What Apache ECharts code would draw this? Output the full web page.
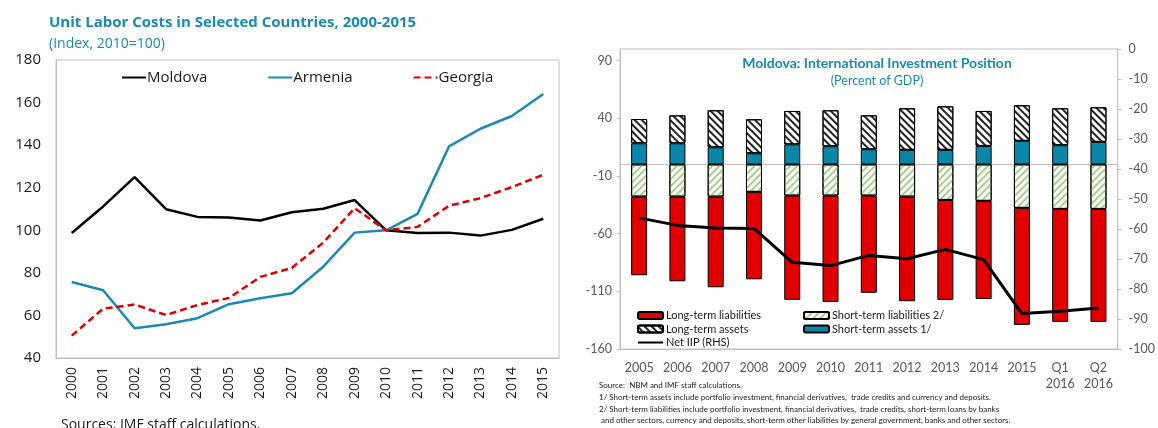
<!DOCTYPE html>
<html>
<head>
<meta charset="utf-8">
<script src="https://cdn.jsdelivr.net/npm/echarts@6/dist/echarts.min.js"></script>
<style>
  html, body { margin: 0; padding: 0; background: #fff; }
  #chart { width: 1158px; height: 428px; }
</style>
</head>
<body>
<div id="chart"></div>
<script>
// Unit labor costs, index 2010 = 100
const years = ['2000','2001','2002','2003','2004','2005','2006','2007','2008','2009','2010','2011','2012','2013','2014','2015'];
const moldova = [98.7, 111.2, 125.0, 109.9, 106.3, 106.0, 104.6, 108.5, 110.1, 114.2, 100.0, 98.7, 98.9, 97.5, 100.2, 105.4];
const armenia = [75.7, 71.8, 54.0, 55.9, 58.7, 65.3, 68.1, 70.4, 82.9, 98.9, 100.0, 107.7, 139.4, 147.7, 153.7, 164.0];
const georgia = [50.5, 63.2, 65.1, 60.2, 64.9, 68.2, 78.1, 82.3, 94.2, 110.4, 100.0, 101.6, 111.5, 115.1, 120.3, 126.1];

// Moldova international investment position, percent of GDP
const periods = ['2005','2006','2007','2008','2009','2010','2011','2012','2013','2014','2015','Q1\n2016','Q2\n2016'];
const shortTermAssets = [18.3, 18.3, 14.8, 9.6, 17.4, 15.7, 13.1, 12.6, 12.6, 16.0, 20.4, 16.6, 19.5];
const longTermAssets = [21.0, 24.2, 32.1, 29.5, 28.9, 31.2, 29.4, 36.0, 37.7, 30.3, 30.8, 32.0, 30.0];
const shortTermLiabilities = [-27.9, -27.9, -27.9, -23.8, -27.0, -27.0, -27.0, -27.9, -30.8, -31.6, -37.7, -38.6, -38.6];
const longTermLiabilities = [-68.2, -73.4, -78.6, -75.8, -90.4, -92.2, -84.3, -90.7, -86.6, -85.0, -101.4, -97.9, -97.9];
const netIIP = [-56.3, -58.8, -59.7, -59.8, -71.1, -72.2, -68.8, -69.9, -66.8, -70.2, -88.2, -87.4, -86.3];

// Tick values
const ulcTicks = [40, 60, 80, 100, 120, 140, 160, 180];
const iipLeftTicks = [-160, -110, -60, -10, 40, 90];
const iipRightTicks = [0, -10, -20, -30, -40, -50, -60, -70, -80, -90, -100];

const notes = [
  'Source:  NBM and IMF staff calculations.',
  '1/ Short-term assets include portfolio investment, financial derivatives,  trade credits and currency and deposits.',
  '2/ Short-term liabilities include portfolio investment, financial derivatives,  trade credits, short-term loans by banks',
  ' and other sectors, currency and deposits, short-term other liabilities by general government, banks and other sectors.'
];

const TEAL = '#1a8ab4';
const RED = '#e00000';
const BAR_TEAL = '#0a86a8';
const GRAY_AXIS = '#bfbfbf';
const SEGOE = '"Open Sans", "Noto Sans", sans-serif';
const CALIBRI = 'Lato, "Noto Sans", sans-serif';

const chart = echarts.init(document.getElementById('chart'), null, { renderer: 'canvas' });

// Hatch patterns: dark "\\\" for long-term assets, light green "///" for short-term liabilities
const stripeDark = {
  symbol: 'rect', symbolSize: 1, color: '#222',
  dashArrayX: [1, 0], dashArrayY: [1.5, 2.8], rotation: Math.PI / 4
};
const stripeGreen = {
  symbol: 'rect', symbolSize: 1, color: '#a8d08d',
  dashArrayX: [1, 0], dashArrayY: [2, 3], rotation: -Math.PI / 4
};

const barCommon = {
  type: 'bar', xAxisIndex: 2, yAxisIndex: 1, stack: 'iip', barWidth: 16,
  emphasis: { disabled: true }
};

const hideSymbol = { opacity: 0 };

const option = {
  animation: false,
  backgroundColor: '#fff',
  title: [
    {
      text: 'Unit Labor Costs in Selected Countries, 2000-2015',
      subtext: '(Index, 2010=100)',
      left: 44, top: 10, itemGap: 7,
      textStyle: { color: TEAL, fontFamily: SEGOE, fontWeight: 'bold', fontSize: 15 },
      subtextStyle: { color: TEAL, fontFamily: SEGOE, fontSize: 14 }
    },
    {
      text: 'Moldova: International Investment Position',
      subtext: '(Percent of GDP)',
      left: 872, textAlign: 'center', top: 51, itemGap: 4,
      textStyle: { color: TEAL, fontFamily: CALIBRI, fontWeight: 'bold', fontSize: 14 },
      subtextStyle: { color: TEAL, fontFamily: CALIBRI, fontSize: 12.5 }
    },
    {
      text: 'Sources: IMF staff calculations.',
      left: 56, top: 413,
      textStyle: { color: '#1a1a1a', fontFamily: SEGOE, fontWeight: 'normal', fontSize: 14 }
    }
  ],
  legend: [
    {
      left: 121, top: 70, padding: 0, itemWidth: 24, itemHeight: 14, itemGap: 60,
      data: [
        { name: 'Moldova', itemStyle: hideSymbol },
        { name: 'Armenia', itemStyle: hideSymbol },
        { name: 'Georgia', itemStyle: hideSymbol }
      ],
      textStyle: { color: '#1a1a1a', fontFamily: SEGOE, fontSize: 15, padding: [0, 0, 0, -4] }
    },
    {
      orient: 'vertical', left: 637, top: 310, padding: 0, itemWidth: 25, itemHeight: 7, itemGap: 2.5,
      data: [
        'Long-term liabilities',
        'Long-term assets',
        { name: 'Net IIP (RHS)', itemStyle: hideSymbol }
      ],
      textStyle: { color: '#1a1a1a', fontFamily: CALIBRI, fontSize: 11, lineHeight: 11, padding: [0, 0, 0, -2] }
    },
    {
      orient: 'vertical', left: 803, top: 310, padding: 0, itemWidth: 25, itemHeight: 7, itemGap: 2.5,
      data: ['Short-term liabilities 2/', 'Short-term assets 1/'],
      textStyle: { color: '#1a1a1a', fontFamily: CALIBRI, fontSize: 11, lineHeight: 11, padding: [0, 0, 0, -2] }
    }
  ],
  grid: [
    { left: 56, top: 60, width: 503, height: 298, show: true, borderColor: GRAY_AXIS, borderWidth: 1, containLabel: false },
    { left: 620, top: 49, width: 504, height: 300, show: true, borderColor: GRAY_AXIS, borderWidth: 1, containLabel: false }
  ],
  xAxis: [
    {
      gridIndex: 0, type: 'category', data: years, boundaryGap: true,
      axisLine: { lineStyle: { color: GRAY_AXIS } },
      axisTick: { inside: true, length: 5, lineStyle: { color: GRAY_AXIS } },
      axisLabel: { rotate: 90, margin: 9, color: '#1a1a1a', fontFamily: SEGOE, fontSize: 14 }
    },
    {
      gridIndex: 1, type: 'category', data: periods, boundaryGap: true, position: 'bottom',
      axisLine: { onZero: false, lineStyle: { color: GRAY_AXIS } },
      axisTick: { show: false },
      axisLabel: { margin: 11, color: '#595959', fontFamily: CALIBRI, fontSize: 12.5, lineHeight: 16 }
    },
    {
      gridIndex: 1, type: 'category', data: periods, boundaryGap: true, position: 'bottom',
      axisLine: { onZero: true, onZeroAxisIndex: 1, lineStyle: { color: GRAY_AXIS } },
      axisTick: { inside: true, length: 4, lineStyle: { color: GRAY_AXIS } },
      axisLabel: { show: false }
    }
  ],
  yAxis: [
    {
      gridIndex: 0, type: 'value', min: 40, max: 180, interval: 20,
      axisLine: { show: true, lineStyle: { color: GRAY_AXIS } },
      axisTick: { show: false },
      splitLine: { show: false },
      axisLabel: { margin: 15, color: '#1a1a1a', fontFamily: SEGOE, fontSize: 15, customValues: ulcTicks }
    },
    {
      gridIndex: 1, type: 'value', min: -160, max: 100, position: 'left',
      axisLine: { show: true, lineStyle: { color: GRAY_AXIS } },
      axisTick: { show: true, length: 3, lineStyle: { color: GRAY_AXIS }, customValues: iipLeftTicks },
      splitLine: { show: false },
      axisLabel: { margin: 8, color: '#595959', fontFamily: CALIBRI, fontSize: 12.5, customValues: iipLeftTicks }
    },
    {
      gridIndex: 1, type: 'value', min: -100, max: 0, position: 'right',
      axisLine: { show: true, lineStyle: { color: GRAY_AXIS } },
      axisTick: { show: true, length: 4, lineStyle: { color: GRAY_AXIS }, customValues: iipRightTicks },
      splitLine: { show: false },
      axisLabel: { margin: 11, color: '#595959', fontFamily: CALIBRI, fontSize: 12.5, customValues: iipRightTicks }
    }
  ],
  series: [
    {
      name: 'Moldova', type: 'line', xAxisIndex: 0, yAxisIndex: 0, data: moldova,
      symbol: 'none', lineStyle: { color: '#000', width: 2.5 }, itemStyle: { color: '#000' }
    },
    {
      name: 'Armenia', type: 'line', xAxisIndex: 0, yAxisIndex: 0, data: armenia,
      symbol: 'none', lineStyle: { color: '#1a8ab4', width: 2.5 }, itemStyle: { color: '#1a8ab4' }
    },
    {
      name: 'Georgia', type: 'line', xAxisIndex: 0, yAxisIndex: 0, data: georgia,
      symbol: 'none', lineStyle: { color: RED, width: 2.5, type: [7, 4] }, itemStyle: { color: RED }
    },
    Object.assign({}, barCommon, {
      name: 'Short-term assets 1/', data: shortTermAssets,
      itemStyle: { color: BAR_TEAL, borderColor: '#000', borderWidth: 1 }
    }),
    Object.assign({}, barCommon, {
      name: 'Long-term assets', data: longTermAssets,
      itemStyle: { color: '#fff', borderColor: '#000', borderWidth: 1, decal: stripeDark }
    }),
    Object.assign({}, barCommon, {
      name: 'Short-term liabilities 2/', data: shortTermLiabilities,
      itemStyle: { color: '#fff', borderColor: '#000', borderWidth: 1, decal: stripeGreen }
    }),
    Object.assign({}, barCommon, {
      name: 'Long-term liabilities', data: longTermLiabilities,
      itemStyle: { color: RED, borderColor: '#000', borderWidth: 1 }
    }),
    {
      name: 'Net IIP (RHS)', type: 'line', xAxisIndex: 2, yAxisIndex: 2, data: netIIP, z: 5,
      symbol: 'none', lineStyle: { color: '#000', width: 3 }, itemStyle: { color: '#000' }
    }
  ],
  graphic: notes.map((t, i) => ({
    type: 'text', left: 599, top: [381, 393, 405, 416][i],
    style: { text: t, fill: '#1a1a1a', font: '8px Lato, "Noto Sans", sans-serif' }
  }))
};

chart.setOption(option);
</script>
</body>
</html>
